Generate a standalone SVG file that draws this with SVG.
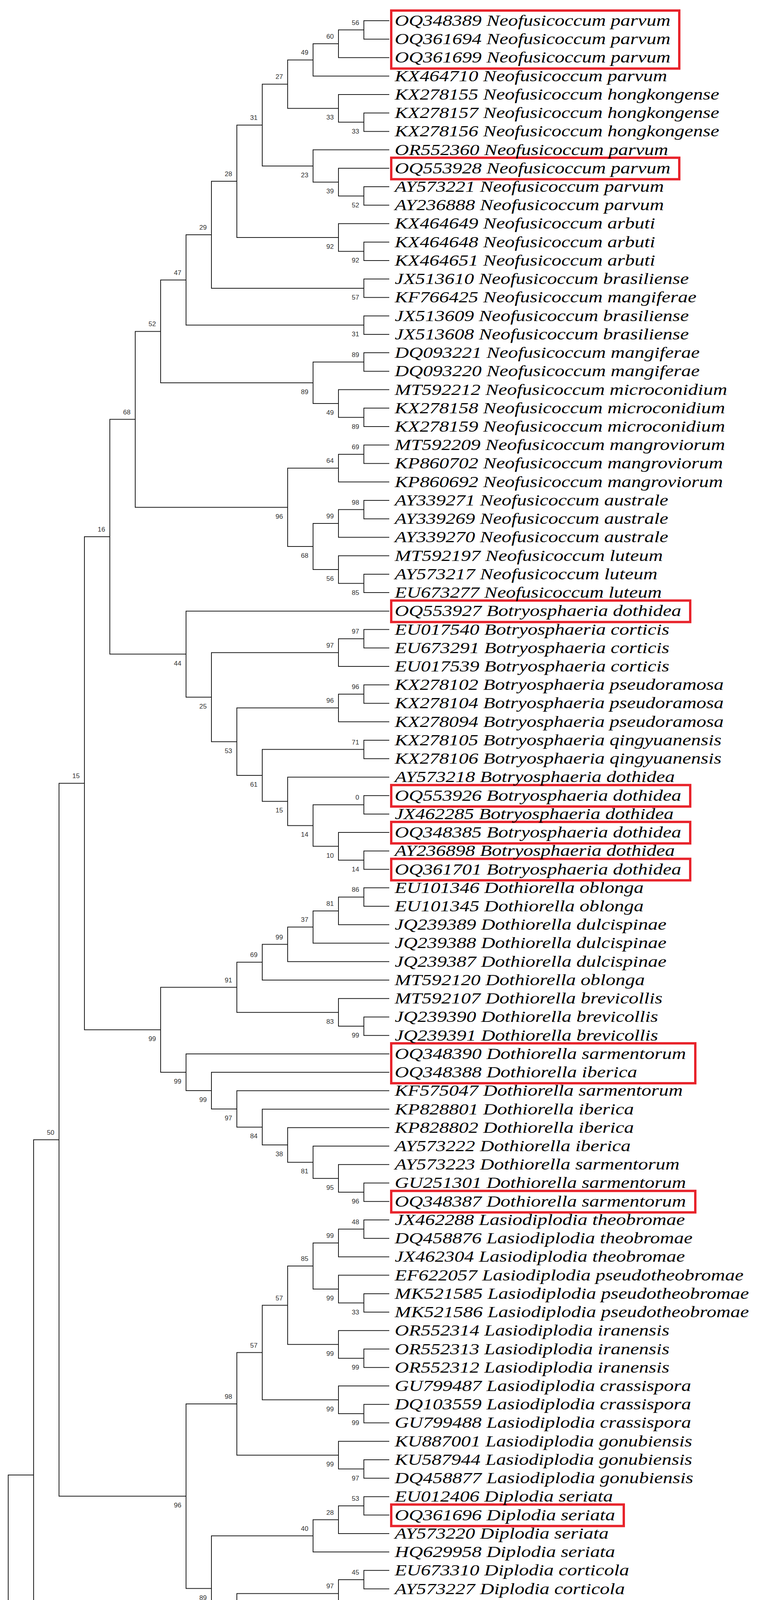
<svg xmlns="http://www.w3.org/2000/svg" width="1942" height="4777" viewBox="0 0 1942 4777">
<style>
.e{fill:none;stroke:#1a1a1a;stroke-width:2}
.t{font-family:"Liberation Serif",serif;font-style:italic;font-size:40px;fill:#000}
.b{font-family:"Liberation Sans",sans-serif;font-size:17px;fill:#333;text-anchor:end}
.r{fill:none;stroke:#e8232b;stroke-width:6}
</style>
<rect width="1942" height="4777" fill="#fff"/>
<g id="connectors">
<path class="e" d="M996 53 H931 V100.2 H996"/>
<path class="e" d="M931 76.6 H866 V147.5 H996"/>
<path class="e" d="M866 112.1 H801 V194.7 H996"/>
<path class="e" d="M996 289.2 H931 V336.4 H996"/>
<path class="e" d="M996 241.9 H866 V312.8 H931"/>
<path class="e" d="M801 153.4 H736 V277.4 H866"/>
<path class="e" d="M996 478.1 H931 V525.3 H996"/>
<path class="e" d="M996 430.8 H866 V501.7 H931"/>
<path class="e" d="M996 383.6 H801 V466.3 H866"/>
<path class="e" d="M736 215.4 H671 V425 H801"/>
<path class="e" d="M996 619.8 H931 V667 H996"/>
<path class="e" d="M996 572.5 H866 V643.4 H931"/>
<path class="e" d="M671 320.2 H606 V608 H866"/>
<path class="e" d="M996 714.2 H931 V761.5 H996"/>
<path class="e" d="M606 464.1 H541 V737.9 H931"/>
<path class="e" d="M996 808.7 H931 V855.9 H996"/>
<path class="e" d="M541 601 H476 V832.3 H931"/>
<path class="e" d="M996 903.1 H931 V950.4 H996"/>
<path class="e" d="M996 1044.8 H931 V1092.1 H996"/>
<path class="e" d="M996 997.6 H866 V1068.5 H931"/>
<path class="e" d="M931 926.8 H801 V1033.1 H866"/>
<path class="e" d="M476 716.7 H411 V980 H801"/>
<path class="e" d="M996 1139.3 H931 V1186.5 H996"/>
<path class="e" d="M931 1162.9 H866 V1233.8 H996"/>
<path class="e" d="M996 1281 H931 V1328.2 H996"/>
<path class="e" d="M931 1304.6 H866 V1375.4 H996"/>
<path class="e" d="M996 1469.9 H931 V1517.1 H996"/>
<path class="e" d="M996 1422.7 H866 V1493.5 H931"/>
<path class="e" d="M866 1340 H801 V1458.1 H866"/>
<path class="e" d="M866 1198.4 H736 V1399.1 H801"/>
<path class="e" d="M411 848.4 H346 V1298.8 H736"/>
<path class="e" d="M996 1611.6 H931 V1658.8 H996"/>
<path class="e" d="M931 1635.2 H866 V1706.1 H996"/>
<path class="e" d="M996 1753.3 H931 V1800.5 H996"/>
<path class="e" d="M931 1776.9 H866 V1847.7 H996"/>
<path class="e" d="M996 1895 H931 V1942.2 H996"/>
<path class="e" d="M996 2036.7 H931 V2083.9 H996"/>
<path class="e" d="M996 2178.4 H931 V2225.6 H996"/>
<path class="e" d="M996 2131.1 H866 V2202 H931"/>
<path class="e" d="M931 2060.3 H801 V2166.6 H866"/>
<path class="e" d="M996 1989.4 H736 V2113.4 H801"/>
<path class="e" d="M931 1918.6 H671 V2051.4 H736"/>
<path class="e" d="M866 1812.3 H606 V1985 H671"/>
<path class="e" d="M866 1670.7 H541 V1898.7 H606"/>
<path class="e" d="M996 1564.4 H476 V1784.7 H541"/>
<path class="e" d="M346 1073.6 H281 V1674.6 H476"/>
<path class="e" d="M996 2272.8 H931 V2320 H996"/>
<path class="e" d="M931 2296.4 H866 V2367.3 H996"/>
<path class="e" d="M866 2331.9 H801 V2414.5 H996"/>
<path class="e" d="M801 2373.2 H736 V2461.7 H996"/>
<path class="e" d="M736 2417.5 H671 V2509 H996"/>
<path class="e" d="M996 2603.4 H931 V2650.7 H996"/>
<path class="e" d="M996 2556.2 H866 V2627.1 H931"/>
<path class="e" d="M671 2463.3 H606 V2591.7 H866"/>
<path class="e" d="M996 3028.5 H931 V3075.7 H996"/>
<path class="e" d="M996 2981.3 H866 V3052.1 H931"/>
<path class="e" d="M996 2934 H801 V3016.7 H866"/>
<path class="e" d="M996 2886.8 H736 V2975.4 H801"/>
<path class="e" d="M996 2839.6 H671 V2931.1 H736"/>
<path class="e" d="M996 2792.3 H606 V2885.4 H671"/>
<path class="e" d="M996 2745.1 H541 V2838.9 H606"/>
<path class="e" d="M996 2697.9 H476 V2792 H541"/>
<path class="e" d="M606 2527.5 H411 V2745 H476"/>
<path class="e" d="M281 1374.1 H216 V2636.3 H411"/>
<path class="e" d="M996 3123 H931 V3170.2 H996"/>
<path class="e" d="M931 3146.6 H866 V3217.4 H996"/>
<path class="e" d="M996 3311.9 H931 V3359.1 H996"/>
<path class="e" d="M996 3264.6 H866 V3335.5 H931"/>
<path class="e" d="M866 3182 H801 V3300.1 H866"/>
<path class="e" d="M996 3453.6 H931 V3500.8 H996"/>
<path class="e" d="M996 3406.3 H866 V3477.2 H931"/>
<path class="e" d="M801 3241.1 H736 V3441.8 H866"/>
<path class="e" d="M996 3595.3 H931 V3642.5 H996"/>
<path class="e" d="M996 3548 H866 V3618.9 H931"/>
<path class="e" d="M736 3341.5 H671 V3583.5 H866"/>
<path class="e" d="M996 3736.9 H931 V3784.2 H996"/>
<path class="e" d="M996 3689.7 H866 V3760.6 H931"/>
<path class="e" d="M671 3462.5 H606 V3725.2 H866"/>
<path class="e" d="M996 3831.4 H931 V3878.6 H996"/>
<path class="e" d="M931 3855 H866 V3925.9 H996"/>
<path class="e" d="M866 3890.5 H801 V3973.1 H996"/>
<path class="e" d="M996 4020.3 H931 V4067.6 H996"/>
<path class="e" d="M931 4044 H866 V4114.8 H996"/>
<path class="e" d="M996 4162 H931 V4209.2 H996"/>
<path class="e" d="M931 4185.6 H866 V4256.5 H996"/>
<path class="e" d="M996 4303.7 H931 V4350.9 H996"/>
<path class="e" d="M931 4327.3 H866 V4398.2 H996"/>
<path class="e" d="M996 4539.9 H931 V4587.1 H996"/>
<path class="e" d="M996 4492.6 H866 V4563.5 H931"/>
<path class="e" d="M996 4445.4 H801 V4528.1 H866"/>
<path class="e" d="M866 4362.8 H736 V4486.8 H801"/>
<path class="e" d="M866 4221.1 H671 V4424.8 H736"/>
<path class="e" d="M866 4079.4 H606 V4323 H671"/>
<path class="e" d="M801 3931.8 H541 V4201.2 H606"/>
<path class="e" d="M606 3593.9 H476 V4066.5 H541"/>
<path class="e" d="M216 2005.2 H151 V3830.2 H476"/>
<path class="e" d="M151 2917.7 H86 V4634.3 H996"/>
<path class="e" d="M996 4681.5 H931 V4728.8 H996"/>
<path class="e" d="M86 3776 H21 V4705.2 H931"/>
</g>
<g id="support">
<text class="b" x="919" y="63.6">56</text><text class="b" x="854" y="99.1">60</text><text class="b" x="789" y="140.4">49</text>
<text class="b" x="919" y="341.8">33</text><text class="b" x="854" y="306.4">33</text><text class="b" x="724" y="202.4">27</text>
<text class="b" x="919" y="530.7">52</text><text class="b" x="854" y="495.3">39</text><text class="b" x="789" y="454">23</text>
<text class="b" x="659" y="307.2">31</text><text class="b" x="919" y="672.4">92</text><text class="b" x="854" y="637">92</text>
<text class="b" x="594" y="451.1">28</text><text class="b" x="919" y="766.9">57</text><text class="b" x="529" y="588">29</text>
<text class="b" x="919" y="861.3">31</text><text class="b" x="464" y="703.7">47</text><text class="b" x="919" y="913.8">89</text>
<text class="b" x="919" y="1097.5">89</text><text class="b" x="854" y="1062.1">49</text><text class="b" x="789" y="1009">89</text>
<text class="b" x="399" y="835.4">52</text><text class="b" x="919" y="1149.9">69</text><text class="b" x="854" y="1185.4">64</text>
<text class="b" x="919" y="1291.6">98</text><text class="b" x="854" y="1327">99</text><text class="b" x="919" y="1522.5">85</text>
<text class="b" x="854" y="1487.1">56</text><text class="b" x="789" y="1428.1">68</text><text class="b" x="724" y="1327.8">96</text>
<text class="b" x="334" y="1060.6">68</text>
<text class="b" x="919" y="1622.2">97</text><text class="b" x="854" y="1657.7">97</text><text class="b" x="919" y="1763.9">96</text>
<text class="b" x="854" y="1799.3">96</text><text class="b" x="919" y="1905.6">71</text><text class="b" x="919" y="2047.3">0</text>
<text class="b" x="919" y="2231">14</text><text class="b" x="854" y="2195.6">10</text><text class="b" x="789" y="2142.4">14</text>
<text class="b" x="724" y="2080.4">15</text><text class="b" x="659" y="2014">61</text><text class="b" x="594" y="1927.7">53</text>
<text class="b" x="529" y="1813.7">25</text><text class="b" x="464" y="1703.6">44</text><text class="b" x="269" y="1361.1">16</text>
<text class="b" x="919" y="2283.4">86</text><text class="b" x="854" y="2318.9">81</text><text class="b" x="789" y="2360.2">37</text>
<text class="b" x="724" y="2404.5">99</text><text class="b" x="659" y="2450.3">69</text><text class="b" x="919" y="2656.1">99</text>
<text class="b" x="854" y="2620.7">83</text><text class="b" x="594" y="2514.5">91</text><text class="b" x="919" y="3081.1">96</text>
<text class="b" x="854" y="3045.7">95</text><text class="b" x="789" y="3004.4">81</text><text class="b" x="724" y="2960.1">38</text>
<text class="b" x="659" y="2914.4">84</text><text class="b" x="594" y="2867.9">97</text><text class="b" x="529" y="2821">99</text>
<text class="b" x="464" y="2774">99</text><text class="b" x="399" y="2665.3">99</text><text class="b" x="204" y="1992.2">15</text>
<text class="b" x="919" y="3133.6">48</text><text class="b" x="854" y="3169">99</text><text class="b" x="919" y="3364.5">33</text>
<text class="b" x="854" y="3329.1">99</text><text class="b" x="789" y="3228.1">85</text><text class="b" x="919" y="3506.2">99</text>
<text class="b" x="854" y="3470.8">99</text><text class="b" x="724" y="3328.5">57</text><text class="b" x="919" y="3647.9">99</text>
<text class="b" x="854" y="3612.5">99</text><text class="b" x="659" y="3449.5">57</text><text class="b" x="919" y="3789.6">97</text>
<text class="b" x="854" y="3754.2">99</text><text class="b" x="594" y="3580.9">98</text>
<text class="b" x="919" y="3842">53</text><text class="b" x="854" y="3877.5">28</text><text class="b" x="789" y="3918.8">40</text>
<text class="b" x="919" y="4031">45</text><text class="b" x="854" y="4066.4">97</text><text class="b" x="919" y="4172.6">59</text>
<text class="b" x="854" y="4208.1">88</text><text class="b" x="919" y="4314.3">84</text><text class="b" x="854" y="4349.8">62</text>
<text class="b" x="919" y="4592.5">88</text><text class="b" x="854" y="4557.1">94</text><text class="b" x="789" y="4515.8">99</text>
<text class="b" x="724" y="4453.8">39</text><text class="b" x="659" y="4352">43</text><text class="b" x="594" y="4230.2">37</text>
<text class="b" x="529" y="4095.5">89</text><text class="b" x="464" y="3859.2">96</text><text class="b" x="139" y="2904.7">50</text>
<text class="b" x="919" y="4734.2">99</text>
</g>
<g id="highlights">
<rect class="r" x="1001" y="27" width="737" height="148.5"/>
<rect class="r" x="1001" y="403.8" width="737" height="55"/>
<rect class="r" x="1001" y="1537.4" width="765" height="55"/>
<rect class="r" x="1001" y="2009.7" width="765" height="55"/>
<rect class="r" x="1001" y="2104.1" width="765" height="55"/>
<rect class="r" x="1001" y="2198.6" width="765" height="55"/>
<rect class="r" x="1001" y="2670.9" width="778" height="102.2"/>
<rect class="r" x="1001" y="3048.7" width="778" height="55"/>
<rect class="r" x="1001" y="3851.6" width="595" height="55"/>
<rect class="r" x="1001" y="4512.9" width="584" height="55"/>
</g>
<g id="taxa" class="t" transform="translate(1010 0) scale(1.25 1)">
<g id="leaf1"><text x="0" y="66">OQ348389 Neofusicoccum parvum</text></g>
<g id="leaf2"><text x="0" y="113.2">OQ361694 Neofusicoccum parvum</text></g>
<g id="leaf3"><text x="0" y="160.5">OQ361699 Neofusicoccum parvum</text></g>
<g id="leaf4"><text x="0" y="207.7">KX464710 Neofusicoccum parvum</text></g>
<g id="leaf5"><text x="0" y="254.9">KX278155 Neofusicoccum hongkongense</text></g>
<g id="leaf6"><text x="0" y="302.2">KX278157 Neofusicoccum hongkongense</text></g>
<g id="leaf7"><text x="0" y="349.4">KX278156 Neofusicoccum hongkongense</text></g>
<g id="leaf8"><text x="0" y="396.6">OR552360 Neofusicoccum parvum</text></g>
<g id="leaf9"><text x="0" y="443.8">OQ553928 Neofusicoccum parvum</text></g>
<g id="leaf10"><text x="0" y="491.1">AY573221 Neofusicoccum parvum</text></g>
<g id="leaf11"><text x="0" y="538.3">AY236888 Neofusicoccum parvum</text></g>
<g id="leaf12"><text x="0" y="585.5">KX464649 Neofusicoccum arbuti</text></g>
<g id="leaf13"><text x="0" y="632.8">KX464648 Neofusicoccum arbuti</text></g>
<g id="leaf14"><text x="0" y="680">KX464651 Neofusicoccum arbuti</text></g>
<g id="leaf15"><text x="0" y="727.2">JX513610 Neofusicoccum brasiliense</text></g>
<g id="leaf16"><text x="0" y="774.5">KF766425 Neofusicoccum mangiferae</text></g>
<g id="leaf17"><text x="0" y="821.7">JX513609 Neofusicoccum brasiliense</text></g>
<g id="leaf18"><text x="0" y="868.9">JX513608 Neofusicoccum brasiliense</text></g>
<g id="leaf19"><text x="0" y="916.1">DQ093221 Neofusicoccum mangiferae</text></g>
<g id="leaf20"><text x="0" y="963.4">DQ093220 Neofusicoccum mangiferae</text></g>
<g id="leaf21"><text x="0" y="1010.6">MT592212 Neofusicoccum microconidium</text></g>
<g id="leaf22"><text x="0" y="1057.8">KX278158 Neofusicoccum microconidium</text></g>
<g id="leaf23"><text x="0" y="1105.1">KX278159 Neofusicoccum microconidium</text></g>
<g id="leaf24"><text x="0" y="1152.3">MT592209 Neofusicoccum mangroviorum</text></g>
<g id="leaf25"><text x="0" y="1199.5">KP860702 Neofusicoccum mangroviorum</text></g>
<g id="leaf26"><text x="0" y="1246.8">KP860692 Neofusicoccum mangroviorum</text></g>
<g id="leaf27"><text x="0" y="1294">AY339271 Neofusicoccum australe</text></g>
<g id="leaf28"><text x="0" y="1341.2">AY339269 Neofusicoccum australe</text></g>
<g id="leaf29"><text x="0" y="1388.4">AY339270 Neofusicoccum australe</text></g>
<g id="leaf30"><text x="0" y="1435.7">MT592197 Neofusicoccum luteum</text></g>
<g id="leaf31"><text x="0" y="1482.9">AY573217 Neofusicoccum luteum</text></g>
<g id="leaf32"><text x="0" y="1530.1">EU673277 Neofusicoccum luteum</text></g>
<g id="leaf33"><text x="0" y="1577.4">OQ553927 Botryosphaeria dothidea</text></g>
<g id="leaf34"><text x="0" y="1624.6">EU017540 Botryosphaeria corticis</text></g>
<g id="leaf35"><text x="0" y="1671.8">EU673291 Botryosphaeria corticis</text></g>
<g id="leaf36"><text x="0" y="1719.1">EU017539 Botryosphaeria corticis</text></g>
<g id="leaf37"><text x="0" y="1766.3">KX278102 Botryosphaeria pseudoramosa</text></g>
<g id="leaf38"><text x="0" y="1813.5">KX278104 Botryosphaeria pseudoramosa</text></g>
<g id="leaf39"><text x="0" y="1860.7">KX278094 Botryosphaeria pseudoramosa</text></g>
<g id="leaf40"><text x="0" y="1908">KX278105 Botryosphaeria qingyuanensis</text></g>
<g id="leaf41"><text x="0" y="1955.2">KX278106 Botryosphaeria qingyuanensis</text></g>
<g id="leaf42"><text x="0" y="2002.4">AY573218 Botryosphaeria dothidea</text></g>
<g id="leaf43"><text x="0" y="2049.7">OQ553926 Botryosphaeria dothidea</text></g>
<g id="leaf44"><text x="0" y="2096.9">JX462285 Botryosphaeria dothidea</text></g>
<g id="leaf45"><text x="0" y="2144.1">OQ348385 Botryosphaeria dothidea</text></g>
<g id="leaf46"><text x="0" y="2191.4">AY236898 Botryosphaeria dothidea</text></g>
<g id="leaf47"><text x="0" y="2238.6">OQ361701 Botryosphaeria dothidea</text></g>
<g id="leaf48"><text x="0" y="2285.8">EU101346 Dothiorella oblonga</text></g>
<g id="leaf49"><text x="0" y="2333">EU101345 Dothiorella oblonga</text></g>
<g id="leaf50"><text x="0" y="2380.3">JQ239389 Dothiorella dulcispinae</text></g>
<g id="leaf51"><text x="0" y="2427.5">JQ239388 Dothiorella dulcispinae</text></g>
<g id="leaf52"><text x="0" y="2474.7">JQ239387 Dothiorella dulcispinae</text></g>
<g id="leaf53"><text x="0" y="2522">MT592120 Dothiorella oblonga</text></g>
<g id="leaf54"><text x="0" y="2569.2">MT592107 Dothiorella brevicollis</text></g>
<g id="leaf55"><text x="0" y="2616.4">JQ239390 Dothiorella brevicollis</text></g>
<g id="leaf56"><text x="0" y="2663.7">JQ239391 Dothiorella brevicollis</text></g>
<g id="leaf57"><text x="0" y="2710.9">OQ348390 Dothiorella sarmentorum</text></g>
<g id="leaf58"><text x="0" y="2758.1">OQ348388 Dothiorella iberica</text></g>
<g id="leaf59"><text x="0" y="2805.3">KF575047 Dothiorella sarmentorum</text></g>
<g id="leaf60"><text x="0" y="2852.6">KP828801 Dothiorella iberica</text></g>
<g id="leaf61"><text x="0" y="2899.8">KP828802 Dothiorella iberica</text></g>
<g id="leaf62"><text x="0" y="2947">AY573222 Dothiorella iberica</text></g>
<g id="leaf63"><text x="0" y="2994.3">AY573223 Dothiorella sarmentorum</text></g>
<g id="leaf64"><text x="0" y="3041.5">GU251301 Dothiorella sarmentorum</text></g>
<g id="leaf65"><text x="0" y="3088.7">OQ348387 Dothiorella sarmentorum</text></g>
<g id="leaf66"><text x="0" y="3136">JX462288 Lasiodiplodia theobromae</text></g>
<g id="leaf67"><text x="0" y="3183.2">DQ458876 Lasiodiplodia theobromae</text></g>
<g id="leaf68"><text x="0" y="3230.4">JX462304 Lasiodiplodia theobromae</text></g>
<g id="leaf69"><text x="0" y="3277.6">EF622057 Lasiodiplodia pseudotheobromae</text></g>
<g id="leaf70"><text x="0" y="3324.9">MK521585 Lasiodiplodia pseudotheobromae</text></g>
<g id="leaf71"><text x="0" y="3372.1">MK521586 Lasiodiplodia pseudotheobromae</text></g>
<g id="leaf72"><text x="0" y="3419.3">OR552314 Lasiodiplodia iranensis</text></g>
<g id="leaf73"><text x="0" y="3466.6">OR552313 Lasiodiplodia iranensis</text></g>
<g id="leaf74"><text x="0" y="3513.8">OR552312 Lasiodiplodia iranensis</text></g>
<g id="leaf75"><text x="0" y="3561">GU799487 Lasiodiplodia crassispora</text></g>
<g id="leaf76"><text x="0" y="3608.3">DQ103559 Lasiodiplodia crassispora</text></g>
<g id="leaf77"><text x="0" y="3655.5">GU799488 Lasiodiplodia crassispora</text></g>
<g id="leaf78"><text x="0" y="3702.7">KU887001 Lasiodiplodia gonubiensis</text></g>
<g id="leaf79"><text x="0" y="3749.9">KU587944 Lasiodiplodia gonubiensis</text></g>
<g id="leaf80"><text x="0" y="3797.2">DQ458877 Lasiodiplodia gonubiensis</text></g>
<g id="leaf81"><text x="0" y="3844.4">EU012406 Diplodia seriata</text></g>
<g id="leaf82"><text x="0" y="3891.6">OQ361696 Diplodia seriata</text></g>
<g id="leaf83"><text x="0" y="3938.9">AY573220 Diplodia seriata</text></g>
<g id="leaf84"><text x="0" y="3986.1">HQ629958 Diplodia seriata</text></g>
<g id="leaf85"><text x="0" y="4033.3">EU673310 Diplodia corticola</text></g>
<g id="leaf86"><text x="0" y="4080.6">AY573227 Diplodia corticola</text></g>
<g id="leaf87"><text x="0" y="4127.8">GU799467 Diplodia corticola</text></g>
<g id="leaf88"><text x="0" y="4175">OR637364 Diplodia bulgarica</text></g>
<g id="leaf89"><text x="0" y="4222.2">OR637363 Diplodia bulgarica</text></g>
<g id="leaf90"><text x="0" y="4269.5">GQ923822 Diplodia bulgarica</text></g>
<g id="leaf91"><text x="0" y="4316.7">DQ458878 Diplodia cupressi</text></g>
<g id="leaf92"><text x="0" y="4363.9">DQ458879 Diplodia cupressi</text></g>
<g id="leaf93"><text x="0" y="4411.2">MT592045 Diplodia cupressi</text></g>
<g id="leaf94"><text x="0" y="4458.4">GU251251 Diplodia mutila</text></g>
<g id="leaf95"><text x="0" y="4505.6">DQ458869 Diplodia mutila</text></g>
<g id="leaf96"><text x="0" y="4552.9">OQ348386 Diplodia mutila</text></g>
<g id="leaf97"><text x="0" y="4600.1">AY573219 Diplodia mutila</text></g>
<g id="leaf98"><text x="0" y="4647.3">MW561687 Botryosphaeria qingyuanensis</text></g>
<g id="leaf99"><text x="0" y="4694.5">KM216788 Biscogniauxia mediterranea</text></g>
<g id="leaf100"><text x="0" y="4741.8">KM216797 Biscogniauxia mediterranea</text></g>
</g>
</svg>
